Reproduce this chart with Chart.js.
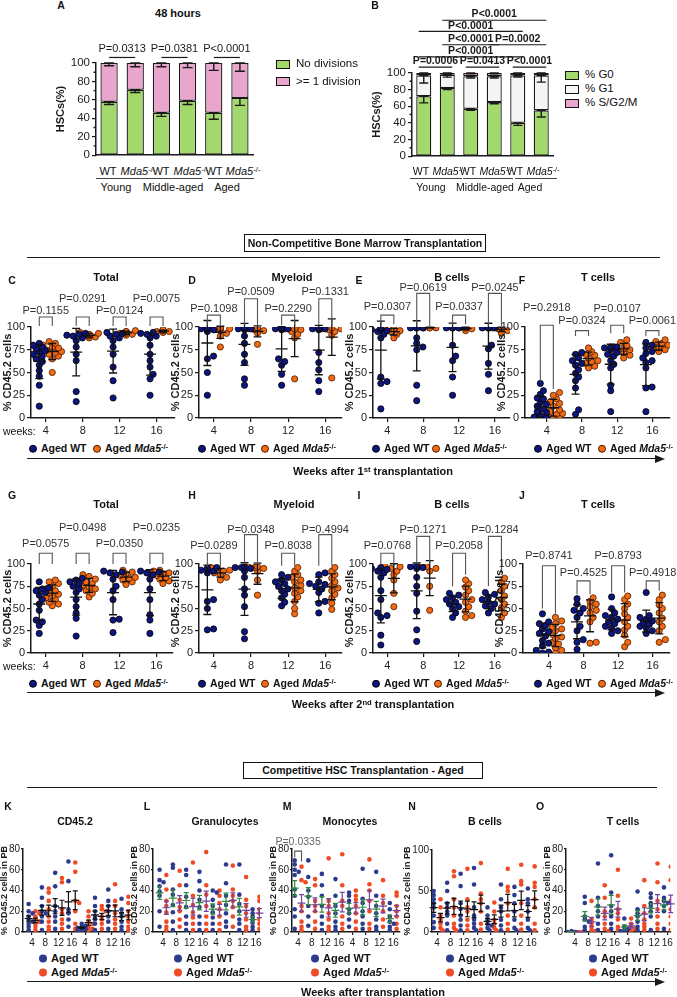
<!DOCTYPE html>
<html>
<head>
<meta charset="utf-8">
<title>Aged HSC / Mda5 figure</title>
<script src="https://cdn.jsdelivr.net/npm/chart.js@4.4.1/dist/chart.umd.min.js"></script>
<style>
  html, body { margin: 0; padding: 0; background: #fff; }
  body { position: relative; width: 677px; height: 997px; overflow: hidden;
         font-family: 'Liberation Sans', Arial, sans-serif; color: #111; }
  canvas { position: absolute; }
  .t { position: absolute; white-space: nowrap; line-height: 1; }
  .b { font-weight: bold; }
  sup { font-size: 0.7em; position: relative; top: -0.45em; vertical-align: baseline; line-height: 0; }
  .hr { position: absolute; height: 0; border-top: 1.5px solid #111; }
  .box { position: absolute; border: 1.2px solid #111; font-weight: bold; font-size: 10.5px;
         text-align: center; box-sizing: border-box; }
  .dot { display: inline-block; border-radius: 50%; vertical-align: -1px; margin-right: 4px; box-sizing: border-box; }
  .sq { position: absolute; width: 12px; height: 7px; border: 1.2px solid #111; }
</style>
</head>
<body>
<script>
/* ---------- data ---------- */

// A: 48 h division, bars = WT / Mda5-/- for Young, Middle-aged, Aged
const ageGroups = ['Young', 'Middle-aged', 'Aged'];
const noDivision = [58, 71, 46, 59, 46, 62];
const noDivisionErr = [3, 3, 4, 4, 7, 8];
const oneDivision = [42, 29, 54, 41, 54, 38];
const oneDivisionErr = [3, 4, 4, 5, 8, 9];
const divisionP = ['P=0.0313', 'P=0.0381', 'P<0.0001'];

// B: cell cycle
const pctG0 = [72, 82, 57, 65, 40, 55];
const pctG0Err = [8, 2, 2, 2, 3, 8];
const pctG1 = [25, 16, 39, 31, 57, 42];
const pctG1Err = [9, 3, 2, 2, 2, 8];
const pctSG2M = [3, 2, 4, 4, 3, 3];
const pctSG2MErr = [1, 1, 1, 1, 1, 1];
const cycleP = ['P=0.0006', 'P=0.0413', 'P<0.0001', 'P<0.0001', 'P<0.0001', 'P=0.0002', 'P<0.0001', 'P<0.0001'];
const cyclePFrom = [0, 2, 4, 0, 1, 3, 0, 1];
const cyclePTo = [1, 3, 5, 4, 3, 5, 4, 5];
const cyclePLevel = [0, 0, 0, 1, 2, 2, 3, 4];

// C-J: % CD45.2 cells, weeks 4, 8, 12, 16
const weeks = ['4', '8', '12', '16'];

const totalWT1 = [[13, 36, 46, 52, 58, 62, 65, 68, 70, 72, 74, 76, 78, 80, 82],
                  [18, 29, 63, 70, 78, 85, 88, 90, 91, 92, 93],
                  [22, 41, 56, 70, 78, 85, 88, 90, 92, 93, 94],
                  [25, 43, 48, 56, 63, 70, 80, 88, 90, 92, 93, 94]];
const totalKO1 = [[50, 65, 68, 70, 72, 73, 75, 76, 77, 78, 80, 82, 84],
                  [88, 89, 90, 90, 91, 92, 93, 94],
                  [91, 92, 93, 93, 94, 95, 95, 96],
                  [94, 95, 95, 96, 96, 97]];
const totalP1 = ['P=0.1155', 'P=0.0291', 'P=0.0124', 'P=0.0075'];

const myeloidWT1 = [[25, 50, 65, 68, 95, 97, 98, 98, 98, 98, 98, 99],
                    [36, 43, 61, 70, 82, 90, 97, 98, 98, 98, 99, 99],
                    [36, 48, 58, 62, 65, 97, 98, 98, 98, 99],
                    [29, 41, 53, 61, 72, 97, 98, 98, 98, 99]];
const myeloidKO1 = [[78, 90, 93, 96, 97, 98, 98, 98, 99],
                    [81, 93, 96, 97, 98, 98, 99, 99],
                    [43, 88, 92, 95, 97, 98, 98],
                    [44, 91, 95, 97, 98, 98, 99]];
const myeloidP1 = ['P=0.1098', 'P=0.0509', 'P=0.2290', 'P=0.1331'];

const bcellWT1 = [[10, 38, 40, 45, 88, 92, 95, 96, 97, 98, 98, 99],
                  [19, 36, 75, 78, 82, 88, 99, 99, 99, 99, 99],
                  [25, 45, 63, 68, 80, 99, 99, 99, 99, 99],
                  [30, 48, 60, 76, 80, 99, 99, 99, 99, 99]];
const bcellKO1 = [[88, 92, 95, 96, 97, 98, 98],
                  [99, 99, 99, 100, 100, 99],
                  [96, 98, 99, 99, 99, 100],
                  [93, 96, 98, 99, 99, 99]];
const bcellP1 = ['P=0.0307', 'P=0.0619', 'P=0.0337', 'P=0.0245'];

const tcellWT1 = [[0, 0, 1, 0, 2, 3, 6, 7, 10, 13, 15, 17, 21, 22, 26, 30, 38],
                  [4, 9, 33, 41, 45, 49, 53, 58, 60, 63, 66, 70, 72],
                  [7, 30, 36, 55, 59, 63, 68, 70, 72, 75, 77, 78, 78],
                  [7, 33, 34, 55, 61, 63, 66, 71, 73, 77, 80, 83]];
const tcellKO1 = [[0, 0, 2, 4, 5, 7, 9, 10, 13, 16, 18, 21, 25, 28],
                  [55, 57, 60, 62, 63, 66, 69, 70, 73, 77],
                  [66, 69, 72, 74, 75, 76, 78, 80, 83, 86],
                  [73, 75, 76, 77, 78, 80, 82, 84, 86]];
const tcellP1 = ['P=0.2918', 'P=0.0324', 'P=0.0107', 'P=0.0061'];

const totalWT2 = [[22, 31, 35, 37, 48, 55, 60, 65, 68, 70, 72, 73, 80],
                  [19, 39, 45, 52, 60, 68, 72, 75, 78, 80, 82, 84],
                  [23, 37, 38, 60, 70, 75, 83, 88, 90, 91, 92],
                  [22, 37, 43, 60, 72, 83, 88, 90, 91, 92]];
const totalKO2 = [[53, 55, 57, 60, 62, 64, 66, 68, 70, 72, 75, 78, 80, 82],
                  [63, 67, 70, 72, 74, 76, 78, 80, 83, 86, 88],
                  [77, 80, 82, 84, 85, 87, 89, 91, 93],
                  [78, 81, 83, 85, 87, 89, 90, 92, 93]];
const totalP2 = ['P=0.0575', 'P=0.0498', 'P=0.0350', 'P=0.0235'];

const myeloidWT2 = [[26, 27, 50, 58, 60, 90, 92, 93, 94, 95, 96],
                    [16, 24, 52, 65, 72, 85, 92, 95, 96, 96, 97],
                    [53, 57, 62, 66, 70, 72, 75, 78, 80, 82, 85, 88],
                    [45, 56, 58, 68, 72, 75, 77, 78, 80, 88, 90]];
const myeloidKO2 = [[82, 85, 88, 90, 92, 93, 95, 96],
                    [65, 82, 92, 95, 96, 97, 97],
                    [44, 50, 58, 63, 67, 70, 73, 76, 80, 82, 85, 88, 92, 96],
                    [49, 56, 62, 66, 70, 73, 76, 80, 84, 88, 92, 96]];
const myeloidP2 = ['P=0.0289', 'P=0.0348', 'P=0.8038', 'P=0.4994'];

const bcellWT2 = [[9, 20, 40, 42, 45, 60, 70, 85, 90, 92, 94, 95, 96],
                  [13, 26, 47, 67, 75, 85, 95, 96, 97, 98],
                  [40, 45, 50, 52, 55, 57, 60, 62, 65, 67],
                  [45, 50, 53, 55, 57, 60, 63, 66, 68]];
const bcellKO2 = [[52, 67, 82, 88, 92, 95, 97, 98],
                  [48, 75, 92, 95, 97, 98],
                  [40, 42, 47, 52, 57, 60, 65, 70, 74, 78, 82],
                  [40, 45, 51, 55, 60, 64, 70, 75, 80, 84]];
const bcellP2 = ['P=0.0768', 'P=0.1271', 'P=0.2058', 'P=0.1284'];

const tcellWT2 = [[0, 1, 3, 8, 11, 14, 19, 22, 24, 27, 31, 33, 35, 44],
                  [4, 12, 15, 25, 30, 40, 45, 48, 50, 55, 61],
                  [22, 25, 28, 30, 33, 35, 38, 40, 42, 45, 50, 63],
                  [22, 25, 28, 30, 32, 34, 36, 38, 40, 42, 68]];
const tcellKO2 = [[0, 3, 6, 10, 12, 16, 18, 21, 25, 27, 29, 33, 36, 40],
                  [11, 12, 35, 40, 45, 48, 52, 55, 58, 62],
                  [7, 12, 20, 26, 30, 35, 40, 44, 50, 55, 60, 64],
                  [12, 15, 25, 30, 35, 39, 45, 50, 54, 60, 65]];
const tcellP2 = ['P=0.8741', 'P=0.4525', 'P=0.8793', 'P=0.4918'];

// K-O: % CD45.2 cells in PB, two series of weeks
const pbWeeks = ['4', '8', '12', '16', '4', '8', '12', '16'];

const cd45WT = [[27, 20, 18, 15, 12, 10, 8, 5, 2], [43, 33, 25, 20, 18, 15, 10, 2],
                [57, 44, 25, 20, 15, 10, 3], [68, 49, 22, 18, 12, 5],
                [8, 6, 5, 4, 3, 2, 1], [33, 25, 20, 15, 12, 8, 2],
                [41, 30, 25, 20, 15, 10, 3], [32, 22, 18, 15, 10, 5, 2]];
const cd45KO = [[20, 18, 15, 12, 10, 8, 5, 2], [42, 38, 30, 22, 15, 10, 5, 2],
                [52, 48, 22, 18, 12, 8, 3], [67, 58, 30, 28, 20, 8, 3],
                [20, 15, 10, 8, 5, 3, 2], [25, 22, 20, 15, 12, 8, 3],
                [46, 30, 25, 18, 12, 8, 3], [34, 28, 20, 15, 10, 5, 2]];

const granWT = [[60, 50, 48, 44, 39, 35, 20, 5], [65, 62, 41, 36, 26, 19, 10, 2],
                [60, 55, 45, 34, 24, 15, 8, 2], [58, 49, 40, 31, 24, 15, 8, 2],
                [40, 38, 31, 25, 19, 14, 8, 2], [65, 47, 35, 26, 18, 10, 5],
                [65, 36, 27, 20, 12, 8, 2], [22, 18, 15, 12, 9, 5, 2]];
const granKO = [[55, 41, 30, 25, 19, 10, 5, 2], [59, 45, 31, 24, 20, 12, 5],
                [67, 35, 26, 19, 14, 8, 2], [77, 45, 36, 25, 15, 8, 2],
                [40, 35, 28, 22, 15, 8, 2], [64, 41, 35, 30, 24, 15, 5],
                [53, 31, 25, 18, 12, 5, 2], [34, 30, 22, 18, 12, 8, 3]];

const monoWT = [[69, 65, 60, 58, 55, 41, 35, 22, 15, 3], [69, 53, 40, 34, 25, 15, 6],
                [56, 45, 35, 25, 15, 8, 2], [51, 35, 25, 18, 10, 5, 2],
                [38, 35, 30, 22, 18, 12, 5], [61, 32, 28, 20, 15, 8, 3],
                [58, 35, 25, 18, 12, 5, 2], [28, 22, 15, 10, 8, 5, 2]];
const monoKO = [[63, 50, 48, 25, 20, 10, 5, 2], [51, 45, 30, 25, 20, 10, 3],
                [71, 30, 25, 18, 12, 5, 2], [75, 45, 30, 25, 15, 8, 3],
                [40, 35, 31, 25, 18, 10, 3], [70, 46, 40, 30, 20, 8, 3],
                [50, 35, 28, 20, 12, 5], [38, 35, 25, 20, 15, 8, 3]];
const monoP = 'P=0.0335';

const pbBWT = [[50, 45, 40, 35, 30, 20, 12, 5], [60, 50, 35, 30, 25, 20, 10, 2],
               [71, 56, 35, 28, 20, 15, 8, 2], [78, 58, 30, 20, 15, 10, 5, 2],
               [30, 20, 15, 10, 8, 5, 2], [58, 40, 30, 25, 15, 8, 2],
               [55, 45, 35, 25, 15, 5, 2], [53, 40, 35, 25, 15, 5, 2]];
const pbBKO = [[40, 30, 20, 15, 10, 5, 2], [74, 68, 40, 30, 20, 10, 5, 2],
               [77, 40, 30, 25, 15, 8, 2], [84, 47, 40, 35, 25, 10, 3],
               [36, 25, 15, 10, 5, 2], [77, 55, 50, 35, 20, 10, 3],
               [82, 62, 58, 35, 20, 10, 3], [80, 60, 55, 40, 30, 10, 2]];

const pbTWT = [[1, 0, 0, 0], [34, 28, 15, 12, 10, 5, 2],
               [66, 33, 25, 20, 15, 8, 2], [74, 38, 25, 20, 15, 8, 3],
               [13, 5, 3, 2, 1], [39, 22, 18, 15, 10, 5, 2],
               [37, 33, 28, 25, 20, 15, 2], [43, 33, 30, 28, 25, 20, 3]];
const pbTKO = [[0, 0, 0], [30, 12, 8, 5, 2, 1],
               [45, 33, 20, 15, 8, 3, 1], [60, 35, 22, 18, 12, 5, 2],
               [13, 8, 5, 3, 1], [50, 25, 18, 12, 8, 5, 2],
               [66, 48, 30, 22, 15, 8, 3], [63, 50, 30, 22, 15, 8, 2]];

/* ---------- shared setup ---------- */
const FONT = "'Liberation Sans', Arial, sans-serif";
Chart.defaults.font.family = FONT;
Chart.defaults.color = '#222';
Chart.defaults.animation = false;
Chart.defaults.responsive = false;
Chart.defaults.plugins.legend.display = false;
Chart.defaults.plugins.tooltip.enabled = false;

const MDA = '<i>Mda5</i><sup>-/-</sup>';
const INK = '#1a1a1a';
const WT_DOT = '#0d1680', KO_DOT = '#f26a12';
const WT_PB = '#2d3b8e', KO_PB = '#ef4b25';

function addCanvas(left, top, w, h) {
  const c = document.createElement('canvas');
  c.width = w; c.height = h;
  Object.assign(c.style, { left: left + 'px', top: top + 'px', width: w + 'px', height: h + 'px' });
  document.body.appendChild(c);
  return c;
}

function put(html, x, y, opt = {}) {
  const d = document.createElement('div');
  d.className = 't' + (opt.bold ? ' b' : '');
  d.innerHTML = html;
  d.style.fontSize = (opt.size || 11) + 'px';
  if (opt.color) d.style.color = opt.color;
  const ax = opt.align === 'left' ? '0' : opt.align === 'right' ? '-100%' : '-50%';
  d.style.left = x + 'px';
  d.style.top = y + 'px';
  d.style.transform = `translate(${ax}, -50%)`;
  document.body.appendChild(d);
  return d;
}

function hline(x1, x2, y, color = INK) {
  const d = document.createElement('div');
  d.className = 'hr';
  Object.assign(d.style, { left: x1 + 'px', top: y + 'px', width: (x2 - x1) + 'px', borderTopColor: color });
  document.body.appendChild(d);
}

function arrow(x1, x2, y) {
  hline(x1, x2 - 6, y);
  const a = document.createElement('div');
  Object.assign(a.style, { position: 'absolute', left: (x2 - 9) + 'px', top: (y - 3.5) + 'px', width: 0, height: 0,
    borderLeft: '10px solid ' + INK, borderTop: '4.5px solid transparent', borderBottom: '4.5px solid transparent' });
  document.body.appendChild(a);
}

function headerBox(text, x, y, w, h) {
  const d = document.createElement('div');
  d.className = 'box';
  d.textContent = text;
  Object.assign(d.style, { left: x + 'px', top: y + 'px', width: w + 'px', height: h + 'px', lineHeight: (h - 2) + 'px' });
  document.body.appendChild(d);
}

function yAxis(min, max, step, yw, title, fs, tfs, tl = 4, pad = 2) {
  return {
    min, max,
    ticks: { stepSize: step, font: { size: fs }, color: '#222', padding: pad },
    grid: { drawOnChartArea: false, tickLength: tl, color: INK, lineWidth: 1.2 },
    border: { color: INK, width: 1.5 },
    title: { display: true, text: title, font: { size: tfs || fs, weight: 'bold', lineHeight: 1.2 }, color: INK, padding: 0 },
    afterFit: s => { s.width = yw; }
  };
}

function xAxisNum(min, max, labels, xh, fs, tl) {
  return {
    type: 'linear', min, max,
    afterBuildTicks: s => { s.ticks = labels.map((_, i) => ({ value: i + 1 })); },
    ticks: { callback: (v, i) => labels[i], font: { size: fs }, color: '#222', padding: 2, maxRotation: 0, autoSkip: false },
    grid: { drawOnChartArea: false, tickLength: tl, color: INK, lineWidth: 1.2 },
    border: { color: INK, width: 1.5 },
    afterFit: s => { s.height = xh; }
  };
}

// horizontal spread so dots of one column do not sit on top of each other
function swarm(vals, xc, pxX, pxY, r) {
  const placed = [];
  return vals.map(v => {
    const py = v * pxY;
    let best = 0;
    for (let k = 0; k <= 6; k++) {
      const o = (k % 2 ? 1 : -1) * Math.ceil(k / 2) * r;
      if (placed.every(p => Math.hypot(p.x - o, p.y - py) >= 1.5 * r)) { best = o; break; }
    }
    placed.push({ x: best, y: py });
    return { x: xc + best / pxX, y: v };
  });
}

function meanErr(vals, sem) {
  const n = vals.length;
  const m = vals.reduce((a, b) => a + b, 0) / n;
  const sd = n > 1 ? Math.sqrt(vals.reduce((a, b) => a + (b - m) ** 2, 0) / (n - 1)) : 0;
  return [m, sem ? sd / Math.sqrt(n) : sd];
}

function drawMeanBar(ctx, xs, ys, xv, vals, sem, halfMean, halfCap, color) {
  const [m, e] = meanErr(vals, sem);
  const xc = xs.getPixelForValue(xv);
  const ym = ys.getPixelForValue(m);
  const lo = ys.getPixelForValue(Math.max(ys.min, m - e));
  const hi = ys.getPixelForValue(m + e);
  ctx.strokeStyle = color;
  ctx.beginPath();
  ctx.moveTo(xc - halfMean, ym); ctx.lineTo(xc + halfMean, ym);
  ctx.moveTo(xc, lo); ctx.lineTo(xc, hi);
  ctx.moveTo(xc - halfCap, lo); ctx.lineTo(xc + halfCap, lo);
  ctx.moveTo(xc - halfCap, hi); ctx.lineTo(xc + halfCap, hi);
  ctx.stroke();
}

function drawBracket(ctx, xs, ys, xa, xb, top, legA, legB, text, textY, font, color) {
  const pa = xs.getPixelForValue(xa), pb = xs.getPixelForValue(xb);
  const pt = ys.getPixelForValue(top);
  ctx.strokeStyle = '#555';
  ctx.lineWidth = 1.1;
  ctx.beginPath();
  ctx.moveTo(pa, ys.getPixelForValue(legA));
  ctx.lineTo(pa, pt); ctx.lineTo(pb, pt);
  ctx.lineTo(pb, ys.getPixelForValue(legB));
  ctx.stroke();
  ctx.fillStyle = color;
  ctx.font = font;
  ctx.textAlign = 'center';
  ctx.textBaseline = 'middle';
  ctx.fillText(text, (pa + pb) / 2, ys.getPixelForValue(textY));
}

/* ---------- A & B: stacked bars ---------- */
function barPanel(cfg) {
  const yw = 42, xh = 4, padR = 4;
  const cv = addCanvas(cfg.x0 - yw, cfg.yTop - cfg.padT, cfg.x1 - cfg.x0 + yw + padR,
                       cfg.yBot - cfg.yTop + cfg.padT + xh);
  new Chart(cv, {
    type: 'bar',
    data: {
      labels: ['WT', 'Mda5', 'WT', 'Mda5', 'WT', 'Mda5'],
      datasets: cfg.series.map(s => ({
        label: s.name, data: s.vals, backgroundColor: s.color, borderColor: INK,
        borderWidth: 1.3, borderSkipped: false, barPercentage: cfg.barPct, categoryPercentage: 1
      }))
    },
    options: {
      layout: { padding: { top: cfg.padT, right: padR, left: 0, bottom: 0 } },
      scales: {
        x: { stacked: true, ticks: { display: false }, grid: { display: false },
             border: { color: INK, width: 1.5 }, afterFit: s => { s.height = xh; } },
        y: Object.assign(yAxis(0, 100, 20, yw, 'HSCs(%)', 11.5, 11), { stacked: true })
      }
    },
    plugins: [{
      id: 'barMarks',
      afterDatasetsDraw(chart) {
        const { ctx, scales: { x, y } } = chart;
        ctx.save();
        ctx.lineWidth = 1.4;
        ctx.strokeStyle = INK;
        // minor ticks
        ctx.beginPath();
        for (let v = 10; v < 100; v += 20) {
          const py = y.getPixelForValue(v);
          ctx.moveTo(y.right, py); ctx.lineTo(y.right - 2.5, py);
        }
        ctx.stroke();
        // error bars, drawn down from each stacked segment top
        const base = cfg.series[0].vals.map(() => 0);
        cfg.series.forEach(s => {
          s.vals.forEach((v, i) => {
            const topV = base[i] + v;
            const xc = x.getPixelForValue(i);
            const p1 = y.getPixelForValue(topV), p0 = y.getPixelForValue(topV - s.errs[i]);
            ctx.beginPath();
            ctx.moveTo(xc, p0); ctx.lineTo(xc, p1);
            ctx.moveTo(xc - cfg.cap, p0); ctx.lineTo(xc + cfg.cap, p0);
            ctx.moveTo(xc - cfg.cap, p1); ctx.lineTo(xc + cfg.cap, p1);
            ctx.stroke();
          });
          s.vals.forEach((v, i) => { base[i] += v; });
        });
        // significance lines
        ctx.fillStyle = INK;
        ctx.textAlign = 'center';
        ctx.textBaseline = 'middle';
        ctx.font = cfg.pFont;
        ctx.lineWidth = 1.2;
        cfg.comps.forEach(c => {
          const xa = x.getPixelForValue(c.from) - c.pad, xb = x.getPixelForValue(c.to) + c.pad;
          const py = y.getPixelForValue(c.line);
          ctx.beginPath(); ctx.moveTo(xa, py); ctx.lineTo(xb, py); ctx.stroke();
          ctx.fillText(c.text, (xa + xb) / 2 + (c.dx || 0), y.getPixelForValue(c.textY));
        });
        ctx.restore();
      }
    }]
  });
}

barPanel({
  x0: 96, x1: 253, yTop: 63, yBot: 160, padT: 24, barPct: 0.66, cap: 5,
  pFont: '11px ' + FONT,
  series: [
    { name: 'No divisions', vals: noDivision, errs: noDivisionErr, color: '#a3d86c' },
    { name: '>= 1 division', vals: oneDivision, errs: oneDivisionErr, color: '#eaa5cc' }
  ],
  comps: divisionP.map((t, k) => ({ from: 2 * k, to: 2 * k + 1, pad: 0, line: 106, text: t, textY: 115.5 }))
});

const cycleLines = [107, 119.5, 134, 150, 163.5];
barPanel({
  x0: 412, x1: 553, yTop: 73, yBot: 161, padT: 71, barPct: 0.64, cap: 4.5,
  pFont: 'bold 10.5px ' + FONT,
  series: [
    { name: '% G0', vals: pctG0, errs: pctG0Err, color: '#a3d86c' },
    { name: '% G1', vals: pctG1, errs: pctG1Err, color: '#f5f5f5' },
    { name: '% S/G2/M', vals: pctSG2M, errs: pctSG2MErr, color: '#eaa5cc' }
  ],
  comps: cycleP.map((t, k) => ({
    from: cyclePFrom[k], to: cyclePTo[k], pad: 5, line: cycleLines[cyclePLevel[k]],
    text: t, textY: cycleLines[cyclePLevel[k]] + 7
  }))
});

// A/B annotations
put('A', 61, 5, { bold: true, size: 10.5 });
put('48 hours', 178, 13, { bold: true, size: 11 });
put('B', 375, 5, { bold: true, size: 10.5 });

function barCategoryLabels(centers, groupSpans, groupCenters, fs) {
  centers.forEach((c, i) => put(i % 2 ? MDA : 'WT', c + (i % 2 ? 2 : 0), 171, { size: fs }));
  groupSpans.forEach(([a, b]) => hline(a, b, 178, '#444'));
  ageGroups.forEach((g, i) => put(g, groupCenters[i], 187, { size: fs }));
}
barCategoryLabels([108, 136, 161, 189, 214, 241], [[96, 148], [148, 202], [208, 254]], [116, 173, 227], 11);
barCategoryLabels([421, 447, 468, 494, 515, 541], [[410, 462], [463, 513], [515, 557]], [431, 485, 530], 10.5);

function sqLegend(items, x, y0, dy) {
  items.forEach(([label, color], i) => {
    const s = document.createElement('div');
    s.className = 'sq';
    Object.assign(s.style, { left: x + 'px', top: (y0 + i * dy - 4.5) + 'px', background: color });
    document.body.appendChild(s);
    put(label, x + 20, y0 + i * dy, { size: 11.5, align: 'left' });
  });
}
sqLegend([['No divisions', '#a3d86c'], ['&gt;= 1 division', '#eaa5cc']], 276, 64, 17.5);
sqLegend([['% G0', '#a3d86c'], ['% G1', '#f5f5f5'], ['% S/G2/M', '#eaa5cc']], 565, 75, 14);

/* ---------- C-J: dot plots ---------- */
function dotPanel(cfg) {
  const yw = 30, xh = 18, padR = 8;
  const cv = addCanvas(cfg.x0 - yw, cfg.yTop - cfg.padT, cfg.x1 - cfg.x0 + yw + padR,
                       cfg.yBot - cfg.yTop + cfg.padT + xh);
  const pxX = (cfg.x1 - cfg.x0) / (cfg.max - cfg.min);
  const pxY = (cfg.yBot - cfg.yTop) / 100;
  const dx = 6.5 / pxX;
  const wtPts = cfg.wt.flatMap((v, i) => swarm(v, i + 1 - dx, pxX, pxY, 3.1));
  const koPts = cfg.ko.flatMap((v, i) => swarm(v, i + 1 + dx, pxX, pxY, 3.1));
  new Chart(cv, {
    type: 'scatter',
    data: {
      datasets: [
        { label: 'Aged WT', data: wtPts, pointRadius: 3.1, backgroundColor: WT_DOT, borderColor: '#000', borderWidth: 0.8 },
        { label: 'Aged Mda5-/-', data: koPts, pointRadius: 3.1, backgroundColor: KO_DOT, borderColor: '#4a1a00', borderWidth: 0.8 }
      ]
    },
    options: {
      layout: { padding: { top: cfg.padT, right: padR, left: 0, bottom: 0 } },
      scales: {
        x: xAxisNum(cfg.min, cfg.max, weeks, xh, 11, 4),
        y: yAxis(0, 100, 25, yw, '% CD45.2 cells', 11)
      }
    },
    plugins: [{
      id: 'dotMarks',
      afterDatasetsDraw(chart) {
        const { ctx, scales: { x, y } } = chart;
        ctx.save();
        ctx.lineWidth = 1.3;
        cfg.wt.forEach((v, i) => drawMeanBar(ctx, x, y, i + 1 - dx, v, false, 6, 4, '#111'));
        cfg.ko.forEach((v, i) => drawMeanBar(ctx, x, y, i + 1 + dx, v, false, 6, 4, '#111'));
        cfg.p.forEach((t, i) => drawBracket(ctx, x, y, i + 1 - dx, i + 1 + dx, cfg.top[i], cfg.legL[i], cfg.legR[i],
                                            t, cfg.textY[i], '11px ' + FONT, '#333'));
        ctx.restore();
      }
    }]
  });
  put(cfg.letter, cfg.lx, cfg.ly, { bold: true, size: 10.5 });
  put(cfg.title, cfg.tx, cfg.ty, { bold: true, size: 11 });
  const ly = cfg.yBot + 30;
  put(`<span class="dot" style="width:8px;height:8px;background:${WT_DOT};border:0.8px solid #000"></span>Aged WT`,
      cfg.x0 + cfg.leg[0] - 2, ly, { bold: true, size: 10.5, align: 'left' });
  put(`<span class="dot" style="width:8px;height:8px;background:${KO_DOT};border:0.8px solid #4a1a00"></span>Aged ${MDA}`,
      cfg.x0 + cfg.leg[1] - 2, ly, { bold: true, size: 10.5, align: 'left' });
  if (cfg.weeksLabel) put('weeks:', 3, cfg.yBot + 13, { size: 10.5, align: 'left' });
}

const row1 = { yTop: 327, yBot: 418, padT: 52 };
const row2 = { yTop: 564, yBot: 653, padT: 52 };

dotPanel(Object.assign({}, row1, { letter: 'C', title: 'Total', wt: totalWT1, ko: totalKO1, p: totalP1,
  x0: 31, x1: 175, min: 0.6, max: 4.5, lx: 12, ly: 280, tx: 106, ty: 277, weeksLabel: true, leg: [0, 64],
  top: [111, 111, 111, 111], legL: [101, 101, 101, 101], legR: [101, 101, 101, 101], textY: [118, 131, 118, 131] }));
dotPanel(Object.assign({}, row1, { letter: 'D', title: 'Myeloid', wt: myeloidWT1, ko: myeloidKO1, p: myeloidP1,
  x0: 199, x1: 342, min: 0.6, max: 4.45, lx: 192, ly: 280, tx: 292, ty: 277, leg: [1, 64],
  top: [113, 131, 113, 131], legL: [102, 102, 102, 102], legR: [102, 102, 102, 102], textY: [120, 139, 120, 139] }));
dotPanel(Object.assign({}, row1, { letter: 'E', title: 'B cells', wt: bcellWT1, ko: bcellKO1, p: bcellP1,
  x0: 373, x1: 510, min: 0.6, max: 4.42, lx: 359, ly: 280, tx: 452, ty: 277, leg: [1, 61],
  top: [113, 137, 113, 137], legL: [103, 101, 103, 101], legR: [103, 101, 103, 101], textY: [122, 143, 122, 143] }));
dotPanel(Object.assign({}, row1, { letter: 'F', title: 'T cells', wt: tcellWT1, ko: tcellKO1, p: tcellP1,
  x0: 525, x1: 670, min: 0.38, max: 4.5, lx: 522, ly: 280, tx: 598, ty: 277, leg: [11, 75],
  top: [102, 96, 102, 96], legL: [40, 90, 93, 90], legR: [32, 90, 93, 90], textY: [121, 107, 120, 107] }));

dotPanel(Object.assign({}, row2, { letter: 'G', title: 'Total', wt: totalWT2, ko: totalKO2, p: totalP2,
  x0: 31, x1: 173, min: 0.6, max: 4.45, lx: 12, ly: 495, tx: 106, ty: 504, weeksLabel: true, leg: [0, 64],
  top: [112, 112, 112, 112], legL: [100, 100, 100, 100], legR: [100, 100, 100, 100], textY: [122, 140, 122, 140] }));
dotPanel(Object.assign({}, row2, { letter: 'H', title: 'Myeloid', wt: myeloidWT2, ko: myeloidKO2, p: myeloidP2,
  x0: 199, x1: 342, min: 0.6, max: 4.45, lx: 192, ly: 495, tx: 294, ty: 504, leg: [1, 64],
  top: [112, 133, 112, 133], legL: [97, 100, 98, 98], legR: [97, 100, 98, 98], textY: [120, 138, 120, 138] }));
dotPanel(Object.assign({}, row2, { letter: 'I', title: 'B cells', wt: bcellWT2, ko: bcellKO2, p: bcellP2,
  x0: 373, x1: 510, min: 0.6, max: 4.42, lx: 359, ly: 495, tx: 452, ty: 504, leg: [1, 63],
  top: [112, 131, 112, 131], legL: [100, 100, 75, 75], legR: [100, 100, 88, 90], textY: [120, 138, 120, 138] }));
dotPanel(Object.assign({}, row2, { letter: 'J', title: 'T cells', wt: tcellWT2, ko: tcellKO2, p: tcellP2,
  x0: 523, x1: 670, min: 0.25, max: 4.5, lx: 522, ly: 495, tx: 598, ty: 504, leg: [13, 77],
  top: [98, 81, 98, 81], legL: [50, 66, 68, 72], legR: [44, 66, 68, 70], textY: [109, 90, 109, 90] }));

/* ---------- K-O: peripheral blood ---------- */
function pbPanel(cfg) {
  const yw = cfg.yw || 23, xh = 16, padR = 4, padT = cfg.padT || 10;
  const cv = addCanvas(cfg.x0 - yw, cfg.yTop - padT, cfg.x1 - cfg.x0 + yw + padR,
                       cfg.yBot - cfg.yTop + padT + xh);
  const pxX = (cfg.x1 - cfg.x0) / (cfg.max - cfg.min);
  const pxY = (cfg.yBot - cfg.yTop) / cfg.ymax;
  const dx = 3.4 / pxX;
  const wtPts = cfg.wt.flatMap((v, i) => swarm(v, i + 1 - dx, pxX, pxY, 2));
  const koPts = cfg.ko.flatMap((v, i) => swarm(v, i + 1 + dx, pxX, pxY, 2));
  const yCfg = yAxis(0, cfg.ymax, cfg.step, yw, '% CD45.2 cells in PB', 10, 9, 2, 1);
  yCfg.title.font.lineHeight = 1;
  new Chart(cv, {
    type: 'scatter',
    data: {
      datasets: [
        { label: 'Aged WT', data: wtPts, pointRadius: 2.3, backgroundColor: WT_PB, borderWidth: 0 },
        { label: 'Aged Mda5-/-', data: koPts, pointRadius: 2.3, backgroundColor: KO_PB, borderWidth: 0 }
      ]
    },
    options: {
      layout: { padding: { top: padT, right: padR, left: 0, bottom: 0 } },
      scales: {
        x: xAxisNum(cfg.min, cfg.max, pbWeeks, xh, 10, 3),
        y: yCfg
      }
    },
    plugins: [{
      id: 'pbMarks',
      afterDatasetsDraw(chart) {
        const { ctx, scales: { x, y } } = chart;
        ctx.save();
        ctx.lineWidth = 1.2;
        cfg.wt.forEach((v, i) => drawMeanBar(ctx, x, y, i + 1 - dx, v, true, 4, 2.5, cfg.errColors[0]));
        cfg.ko.forEach((v, i) => drawMeanBar(ctx, x, y, i + 1 + dx, v, true, 4, 2.5, cfg.errColors[1]));
        if (cfg.p) drawBracket(ctx, x, y, 1 - dx, 1 + dx, 78, 72, 68, cfg.p, 87, '10.5px ' + FONT, '#666');
        ctx.restore();
      }
    }]
  });
  put(cfg.letter, cfg.lx, 806, { bold: true, size: 10.5 });
  put(cfg.title, cfg.tx, 821, { bold: true, size: 10.5 });
  put(`<span class="dot" style="width:8px;height:8px;background:${WT_PB}"></span>Aged WT`, cfg.legX, 958,
      { bold: true, size: 11, align: 'left' });
  put(`<span class="dot" style="width:8px;height:8px;background:${KO_PB}"></span>Aged ${MDA}`, cfg.legX, 972,
      { bold: true, size: 11, align: 'left' });
}

const GREEN = '#2f8a3c', PURPLE = '#7442a0';
pbPanel({ letter: 'K', title: 'CD45.2', wt: cd45WT, ko: cd45KO, x0: 23, x1: 130, min: 0.32, max: 8.38,
  yTop: 849, yBot: 932, ymax: 80, step: 20, lx: 8, tx: 75, legX: 39, errColors: ['#111', '#111'] });
pbPanel({ letter: 'L', title: 'Granulocytes', wt: granWT, ko: granKO, x0: 153, x1: 260, min: 0.25, max: 8.3,
  yTop: 849, yBot: 932, ymax: 80, step: 20, lx: 147, tx: 225, legX: 174, errColors: [GREEN, PURPLE] });
pbPanel({ letter: 'M', title: 'Monocytes', wt: monoWT, ko: monoKO, p: monoP, x0: 292, x1: 400, min: 0.55, max: 8.5,
  yTop: 849, yBot: 932, ymax: 80, step: 20, padT: 18, lx: 287, tx: 350, legX: 311, errColors: [GREEN, PURPLE] });
pbPanel({ letter: 'N', title: 'B cells', wt: pbBWT, ko: pbBKO, x0: 432, x1: 538, min: 0.62, max: 8.5, yw: 29,
  yTop: 850, yBot: 932, ymax: 100, step: 50, lx: 412, tx: 485, legX: 446, errColors: ['#111', '#111'] });
pbPanel({ letter: 'O', title: 'T cells', wt: pbTWT, ko: pbTKO, x0: 566, x1: 671, min: 0.32, max: 8.22,
  yTop: 849, yBot: 932, ymax: 80, step: 20, lx: 540, tx: 623, legX: 589, errColors: [GREEN, PURPLE] });

/* ---------- section headers and arrows ---------- */
headerBox('Non-Competitive Bone Marrow Transplantation', 244, 234, 242, 18);
hline(27, 660, 257);
arrow(27, 664, 458);
put('Weeks after 1<sup>st</sup> transplantation', 373, 471, { bold: true, size: 11 });
arrow(27, 664, 692);
put('Weeks after 2<sup>nd</sup> transplantation', 373, 704, { bold: true, size: 11 });
headerBox('Competitive HSC Transplantation - Aged', 243, 762, 240, 17);
hline(27, 657, 787);
arrow(27, 664, 981);
put('Weeks after transplantation', 373, 992, { bold: true, size: 11 });
</script>
</body>
</html>
